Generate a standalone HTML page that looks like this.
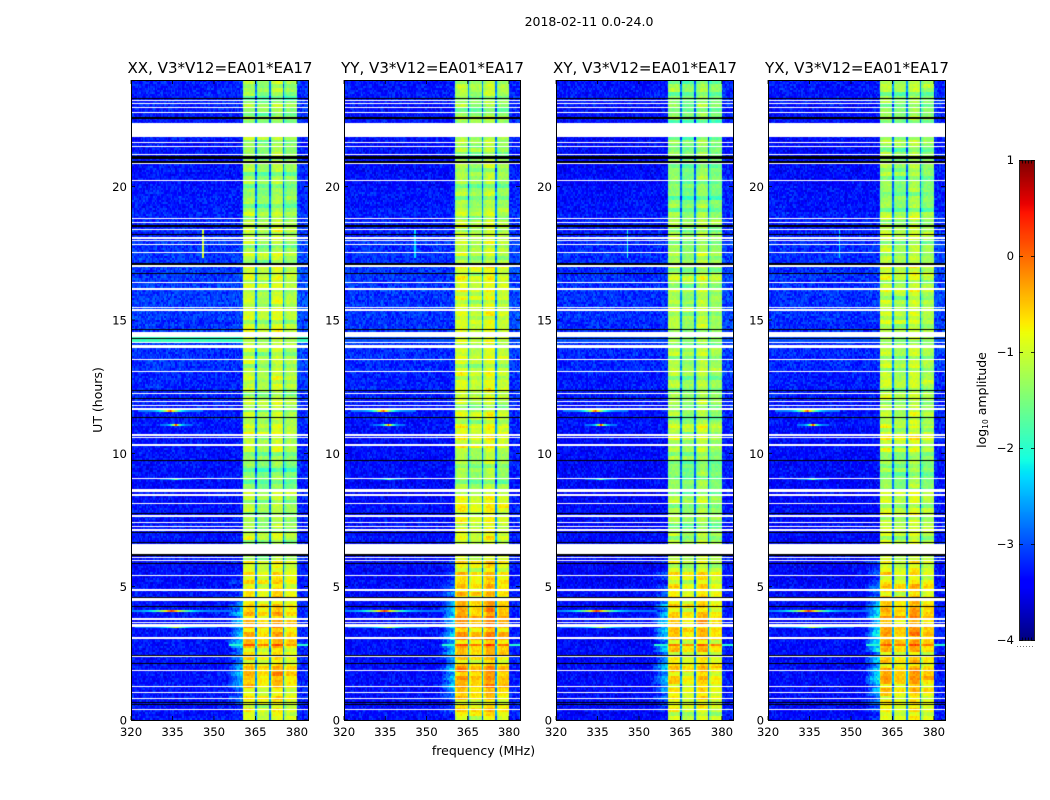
<!DOCTYPE html>
<html lang="en">
<head>
<meta charset="utf-8">
<title>2018-02-11 spectrogram</title>
<style>
html,body{margin:0;padding:0;background:#fff;width:1050px;height:800px;overflow:hidden}
#figure{position:relative;width:1050px;height:800px;background:#fff}
canvas{position:absolute;display:block}
svg{position:absolute;left:0;top:0}
text{font-family:"DejaVu Sans","Liberation Sans",sans-serif;fill:#000}
</style>
</head>
<body>
<div id="figure">
<canvas id="panel0" width="177" height="640" style="left:131px;top:80px"></canvas>
<canvas id="panel1" width="176" height="640" style="left:344px;top:80px"></canvas>
<canvas id="panel2" width="177" height="640" style="left:556px;top:80px"></canvas>
<canvas id="panel3" width="177" height="640" style="left:768px;top:80px"></canvas>
<canvas id="cbar" width="15" height="480" style="left:1019px;top:160px"></canvas>
<svg id="overlay" width="1050" height="800" viewBox="0 0 1050 800">
<text x="589" y="26" text-anchor="middle" font-size="12.5">2018-02-11 0.0-24.0</text>
<text x="483.500" y="755" text-anchor="middle" font-size="12.5">frequency (MHz)</text>
<text transform="translate(102 400) rotate(-90)" text-anchor="middle" font-size="12.5">UT (hours)</text>
<text transform="translate(986 400) rotate(-90)" text-anchor="middle" font-size="12.5">log<tspan font-size="7.5" dy="2">10</tspan><tspan dy="-2"> amplitude</tspan></text>
<line x1="1017" y1="646.500" x2="1035" y2="646.500" stroke="#777" stroke-width="1" stroke-dasharray="1 2"/>
</svg>
</div>
<script>
// Axis data
const panelTitles = ["XX, V3*V12=EA01*EA17", "YY, V3*V12=EA01*EA17", "XY, V3*V12=EA01*EA17", "YX, V3*V12=EA01*EA17"];
const panelKeys = ["xx", "yy", "xy", "yx"];
const freqTicks = [320, 335, 350, 365, 380];
const hourTicks = [0, 5, 10, 15, 20];
const colorTicks = [1, 0, -1, -2, -3, -4];
const colorEndTicks = [1, -4];
const freqRange = [320, 384];
const hourRange = [0, 24];
const colorRange = [-4, 1];
const channelCount = 128;
const rowCount = 320;

// Band amplitude (log10) for each half hour, one series per polarisation
const bandXX = [-.85,-.8,-.55,-.4,-.7,-.55,-.4,-.4,-.6,-.65,-.7,-.85,-1,-1,-1.25,-1.2,-1.15,-1.4,-1.45,-1.35,-1.05,-.95,-1.1,-1.15,-1.1,-1.05,-1.1,-1.1,-1.15,-1,-1,-1.05,-1.05,-.95,-1.1,-1.15,-1.05,-1.1,-1.3,-1.35,-1.3,-1.2,-1.3,-1.2,-1.35,-1.3,-1.35,-1.2];
const bandYY = [-.65,-.55,-.35,-.25,-.55,-.4,-.25,-.2,-.35,-.5,-.55,-.7,-.9,-.9,-.85,-.8,-.85,-1.2,-1.25,-1.15,-.85,-.8,-1,-1.05,-.95,-.9,-1,-1,-1.05,-.95,-.9,-.95,-.85,-.85,-1,-1.05,-1,-1.05,-1.2,-1.25,-1.2,-1.15,-1.25,-1.15,-1.25,-1.25,-1.25,-1.05];
const bandXY = [-.85,-.8,-.65,-.55,-.75,-.6,-.5,-.5,-.65,-.7,-.75,-.9,-1.15,-1.15,-1.3,-1.25,-1.2,-1.35,-1.4,-1.35,-1.15,-1.05,-1.2,-1.25,-1.25,-1.2,-1.2,-1.2,-1.3,-1.15,-1.15,-1.2,-1.15,-1.1,-1.2,-1.25,-1.2,-1.25,-1.4,-1.45,-1.4,-1.35,-1.4,-1.35,-1.45,-1.4,-1.4,-1.3];
const bandYX = [-.8,-.7,-.45,-.35,-.6,-.45,-.3,-.3,-.45,-.6,-.65,-.85,-1,-1,-1.05,-1,-1,-1.3,-1.35,-1.3,-1,-.9,-1.1,-1.15,-1.1,-1.1,-1.15,-1.1,-1.2,-1.05,-1.05,-1.1,-1,-.95,-1.1,-1.15,-1.1,-1.15,-1.3,-1.35,-1.3,-1.25,-1.3,-1.25,-1.35,-1.3,-1.3,-1.2];

// Background amplitude for each hour, plus a small offset per panel
const backgroundLevels = [-3.32,-3.32,-3.32,-3.32,-3.32,-3.36,-3.32,-3.32,-3.36,-3.32,-3.32,-3.28,-3.22,-3.16,-3.12,-3.1,-3.1,-3.12,-3.22,-3.27,-3.32,-3.32,-3.3,-3.25];
const panelBackgroundOffset = [0, -.03, -.06, -.05];

// Channel gain (0 is background, 1 is full band) for 0.5 MHz channels from 320 MHz
const channelGain = [
0,0,0,0,0,0,0,0,0,0,0,0,0,0,0,0,0,0,0,0,
0,0,0,0,0,0,0,0,0,0,0,0,0,0,0,0,0,0,0,0,
0,0,0,0,0,0,0,0,0,0,0,0,0,0,0,0,0,0,0,0,
0,0,0,0,0,0,0,0,0,0,0,0,0,0,0,0,0,0,0,0,
.05,.92,.98,.99,1,1,1,1,.98,.95,.25,.82,.92,.93,.93,.92,.92,.92,.92,.91,
.25,.85,.96,1.02,1.03,1.04,1.04,1.03,1.02,1,.25,.8,.9,.94,.94,.93,.93,.93,.93,.92,
.1,.08,.06,.06,.06,.06,.06,.08];

// Shoulder below the band, strongest in the early hours
const shoulderGain = [
0,0,0,0,0,0,0,0,0,0,0,0,0,0,0,0,0,0,0,0,
0,0,0,0,0,0,0,0,0,0,0,0,0,0,0,0,0,0,0,0,
0,0,0,0,0,0,0,0,0,0,0,0,0,0,0,0,0,0,0,0,
0,0,0,0,0,0,0,0,0,0,.1,.2,.3,.4,.5,.6,.7,.8,.85,.9,
1,0,0,0,0,0,0,0,0,0,0,0,0,0,0,0,0,0,0,0,
0,0,0,0,0,0,0,0,0,0,0,0,0,0,0,0,0,0,0,0,
0,0,0,0,0,0,0,0];
const shoulderLevels = [-3.3,-3,-2.6,-2.5,-2.7,-2.5,-2.4,-2.4,-2.6,-3,-3.2,-3.3];
const panelShoulderBoost = [0, .15, .05, .25];

// Flagged rows (white) and dropped rows (black), hours
const gapStarts = [21.86, 14.37, 6.22];
const gapEnds = [22.4, 14.56, 6.6];
const whiteRows = [23.22,23.13,22.98,22.77,21.65,21.5,21.2,20.88,20.24,18.81,18.65,18.4,18.08,17.97,17.84,17.54,17.03,16.41,16.16,15.46,15.37,14.15,14.02,13.96,13.52,13.06,12.25,11.95,11.79,11.66,10.69,10.6,10.31,9.06,8.62,8.56,8.44,8.13,7.65,7.41,7.25,7.12,6.09,5.97,5.41,4.87,4.56,4.5,3.79,3.65,3.56,3.5,3.1,3.05,2.37,1.85,1.26,1.02,.8,.4];
const blackRows = [23.31,22.57,21.11,21.05,20.93,18.53,18.21,17.1,16.75,14.65,14.31,12.36,12.06,11.35,9.74,7.75,7.04,6.66,6.19,5.88,4.6,4.25,2.41,2.12,.65,.59];

// Narrowband interference
const spurHours = [11.54, 11.0, 4.05, 3.45, 9.0];
const spurPeaks = [334, 336, 334.5, 336, 336];
const spurLevels = [.2, .1, .3, -1, -1.6];
const spurWidths = [12, 6, 22, 15, 6];
const burstFreq = 345.6;
const burstStart = 17.32;
const burstEnd = 18.3;
const burstLevels = [-1, -2.3, -2.1, -2.3];
const burstHalfWidths = [.45, .2, .2, .2];
const brightRowHours = [2.75];
const brightRowBoost = [.55];
const cyanRowStart = 14.17;
const cyanRowEnd = 14.34;
const cyanRowLevels = [-1.9, -3, -3, -3];

// Texture tables
const rowStreak = [.05,-.1,.12,-.22,.08,.15,-.05,-.3,.1,.02,-.12,.18,-.08,.06,-.18,.14,-.02,-.26,.1,.2,-.06,.04,-.16,.12,.07,-.34,.16,-.04,.09,-.14,.13,-.07,.03,-.2,.17,-.1,.06];
const cellNoise = [.3,-.4,.1,-.7,.6,-.2,.8,-.5,.2,-.1,.5,-.9,.4,.0,-.3,.7,-.6,.2,.9,-.4,-.1,.3,-.8,.5,.1,-.2,.6,-.5,.0,.4,-.7,.8,-.3,.2,-.6,.1,.5,-.9,.3,-.1,.7,-.4,.2,.6,-.2,-.8,.4,.1,-.5,1,-.3,.0,.5,-.7,.2,.3,-.6,.8,-.1,-.4,.4,-.2,.6,-.9,.1,.7,-.5,.3,-.3,.2,.9,-.6,.0,.5,-.8,.4,-.1,.6,-.4,.2,-.7,.3,.8,-.2,.1,-.5,.6,-.3,.4,-.9,.7,.0,-.6,.2,.5,-.1,-.4];

const panelBands = [bandXX, bandYY, bandXY, bandYX];
const panelLefts = [131, 344, 556, 768];
const panelWidths = [177, 176, 177, 177];
const panelTop = 80;
const panelHeight = 640;

function xScale(freq, panel) {
  return panelWidths[panel] * (freq - freqRange[0]) / (freqRange[1] - freqRange[0]);
}
function yScale(hour) {
  return panelHeight * (1 - (hour - hourRange[0]) / (hourRange[1] - hourRange[0]));
}
function ramp(t, a, b) {
  return Math.max(0, Math.min(1, (t - a) / (b - a)));
}
function jet(level) {
  const t = Math.max(0, Math.min(1, (level - colorRange[0]) / (colorRange[1] - colorRange[0])));
  let r = ramp(t, .35, .66);
  if (t > .89) r = 1 - .5 * ramp(t, .89, 1);
  let g = ramp(t, .125, .375);
  if (t > .64) g = 1 - ramp(t, .64, .91);
  let b = .5 + .5 * ramp(t, 0, .11);
  if (t > .34) b = 1 - ramp(t, .34, .65);
  return "rgb(" + Math.round(r * 255) + "," + Math.round(g * 255) + "," + Math.round(b * 255) + ")";
}
function cellLevel(panel, c, r) {
  const freq = freqRange[0] + c * (freqRange[1] - freqRange[0]) / channelCount;
  const hour = r * (hourRange[1] - hourRange[0]) / rowCount;
  const noise = cellNoise[(c * c * 3 + r * r * 5 + c * r * 7 + panel * 13) % cellNoise.length];
  const background = backgroundLevels[Math.floor(hour)] + panelBackgroundOffset[panel];
  const band = panelBands[panel][Math.floor(hour * 2)];
  const subBand = Math.floor((c - 81) / 10);
  const streak = rowStreak[(Math.floor(r / 2) + panel * 3) % rowStreak.length];
  const bandStreak = rowStreak[(Math.floor(r / 2) + panel * 3 + subBand * 11 + 40) % rowStreak.length];
  const gain = channelGain[c];
  let level;
  if (gain > .2) {
    level = background + gain * (band - background) + streak * 1.1 + bandStreak * .5 + noise * .16;
  } else {
    level = background + gain * 1.5 + noise * .32 + streak * .1;
    if (hour < 6 && shoulderGain[c] > 0) {
      const top = shoulderLevels[Math.floor(hour * 2)] + panelShoulderBoost[panel];
      level = Math.max(level, background + shoulderGain[c] * (top - background) + noise * .3 + streak * 1);
    }
    if (hour >= cyanRowStart && hour <= cyanRowEnd) level = Math.max(level, cyanRowLevels[panel] + noise * .1);
    if (Math.abs(freq - burstFreq) < burstHalfWidths[panel] && hour >= burstStart && hour <= burstEnd) level = Math.max(level, burstLevels[panel]);
  }
  spurHours.forEach(function (spurHour, i) {
    if (Math.abs(hour - spurHour) < .04 && gain <= .2) {
      const reach = 1 - Math.abs(freq - spurPeaks[i]) / spurWidths[i];
      if (reach > 0) level = Math.max(level, -2.8 + (spurLevels[i] + 2.8) * reach * reach * reach * reach);
    }
  });
  brightRowHours.forEach(function (rowHour, i) {
    if (Math.abs(hour - rowHour) < .04) level = gain > .2 ? level + brightRowBoost[i] : Math.max(level, freq > 355 ? -2 : level);
  });
  return level;
}
function fillRow(ctx, hour, w) {
  const top = Math.round(yScale(hour) - .65);
  const bottom = Math.max(top + 1, Math.round(yScale(hour) + .65));
  ctx.fillRect(0, top, w, bottom - top);
}
function drawPanel(panel) {
  const ctx = document.getElementById("panel" + panel).getContext("2d");
  const df = (freqRange[1] - freqRange[0]) / channelCount;
  const dh = (hourRange[1] - hourRange[0]) / rowCount;
  for (let r = 0; r < rowCount; r++) {
    const y1 = Math.round(yScale(r * dh));
    const y0 = Math.round(yScale((r + 1) * dh));
    for (let c = 0; c < channelCount; c++) {
      const f = freqRange[0] + c * df;
      const x0 = Math.round(xScale(f, panel));
      const x1 = Math.round(xScale(f + df, panel));
      ctx.fillStyle = jet(cellLevel(panel, c, r));
      ctx.fillRect(x0, y0, x1 - x0, y1 - y0);
    }
  }
  const w = panelWidths[panel];
  ctx.fillStyle = "#000";
  blackRows.forEach(function (h) {
    fillRow(ctx, h, w);
  });
  ctx.fillStyle = "#fff";
  whiteRows.forEach(function (h) {
    fillRow(ctx, h, w);
  });
  gapStarts.forEach(function (start, i) {
    const top = Math.round(yScale(gapEnds[i]));
    ctx.fillRect(0, top, w, Math.round(yScale(start)) - top);
  });
}
function drawColorbar() {
  const ctx = document.getElementById("cbar").getContext("2d");
  for (let y = 0; y < 480; y++) {
    ctx.fillStyle = jet(colorRange[1] - (y + .5) / 480 * (colorRange[1] - colorRange[0]));
    ctx.fillRect(0, y, 15, 1);
  }
}

const NS = "http://www.w3.org/2000/svg";
const overlay = document.getElementById("overlay");
function addLine(x1, y1, x2, y2, width) {
  const el = document.createElementNS(NS, "line");
  el.setAttribute("x1", x1);
  el.setAttribute("y1", y1);
  el.setAttribute("x2", x2);
  el.setAttribute("y2", y2);
  el.setAttribute("stroke", "#000");
  el.setAttribute("stroke-width", width);
  overlay.appendChild(el);
  return el;
}
function addText(x, y, anchor, size, content) {
  const el = document.createElementNS(NS, "text");
  el.setAttribute("x", x);
  el.setAttribute("y", y);
  el.setAttribute("text-anchor", anchor);
  el.setAttribute("font-size", size);
  el.textContent = content;
  overlay.appendChild(el);
  return el;
}
function drawAxes(panel) {
  const left = panelLefts[panel];
  const w = panelWidths[panel];
  const key = panelKeys[panel];
  const frame = document.createElementNS(NS, "rect");
  frame.setAttribute("x", left + .5);
  frame.setAttribute("y", panelTop + .5);
  frame.setAttribute("width", w);
  frame.setAttribute("height", panelHeight);
  frame.setAttribute("fill", "none");
  frame.setAttribute("stroke", "#000");
  frame.setAttribute("stroke-width", "1");
  
  
  overlay.appendChild(frame);
  const title = addText(left + w / 2 + .5, panelTop - 7, "middle", 15.05, panelTitles[panel]);
  
  
  freqTicks.forEach(function (f) {
    const x = left + xScale(f, panel);
    const bottomTick = addLine(x, panelTop + panelHeight, x, panelTop + panelHeight - 4, .8);
    
    
    const topTick = addLine(x, panelTop, x, panelTop + 4, .8);
    
    
    const label = addText(x, panelTop + panelHeight + 16, "middle", 11.7, String(f));
    
    
  });
  hourTicks.forEach(function (h) {
    const y = panelTop + yScale(h);
    const leftTick = addLine(left, y, left + 4, y, .8);
    
    
    const rightTick = addLine(left + w, y, left + w - 4, y, .8);
    
    
    const label = addText(left - 4, y + 4.500, "end", 11.7, String(h));
    
    
  });
}
function drawColorbarAxis() {
  const frame = document.createElementNS(NS, "rect");
  frame.setAttribute("x", 1019.5);
  frame.setAttribute("y", 160.5);
  frame.setAttribute("width", 15);
  frame.setAttribute("height", 480);
  frame.setAttribute("fill", "none");
  frame.setAttribute("stroke", "#222");
  frame.setAttribute("stroke-width", "1");
  
  
  overlay.appendChild(frame);
  colorTicks.forEach(function (v) {
    const y = 160.5 + 480 * (colorRange[1] - v) / (colorRange[1] - colorRange[0]);
    const leftTick = addLine(1019, y, 1023, y, .8);
    
    
    const rightTick = addLine(1035, y, 1031, y, .8);
    
    
    const label = addText(1014, y + 3.500, "end", 11.7, String(v).replace("-", "\u2212"));
    
    
  });
  colorEndTicks.forEach(function (v) {
    const y = 160.5 + 480 * (colorRange[1] - v) / (colorRange[1] - colorRange[0]);
    const direction = v === colorRange[1] ? 3 : -3;
    for (let x = 1022; x < 1034; x += 3) {
      const endTick = addLine(x + .5, y, x + .5, y + direction, .8);
      
      
    }
  });
}

for (let p = 0; p < 4; p++) {
  drawPanel(p);
  drawAxes(p);
}
drawColorbar();
drawColorbarAxis();
</script>
</body>
</html>
